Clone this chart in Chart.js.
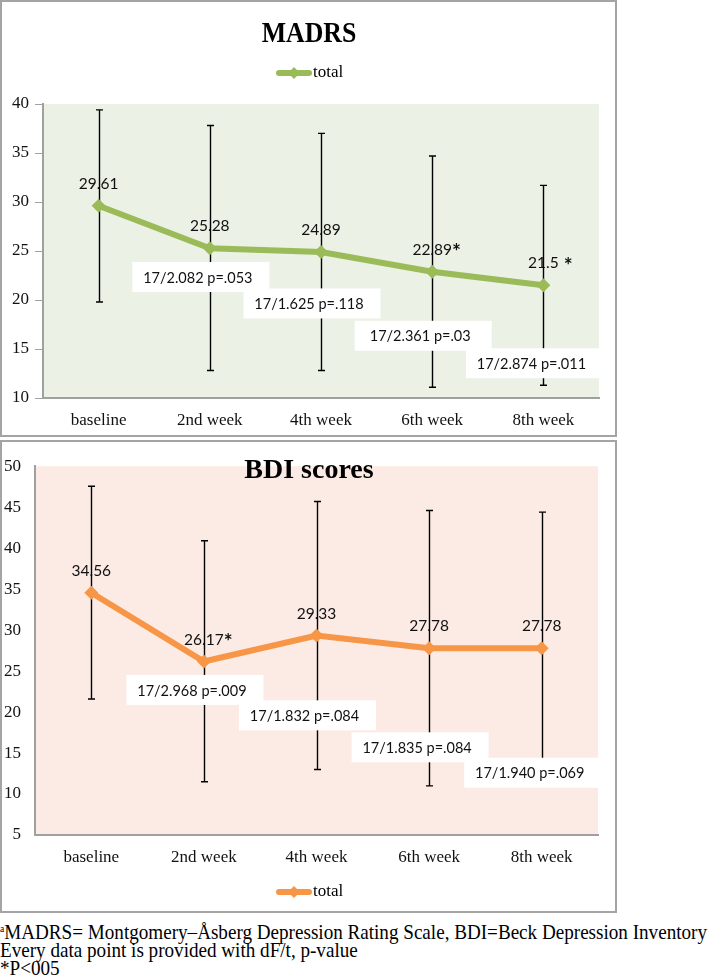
<!DOCTYPE html>
<html><head><meta charset="utf-8">
<script src="https://cdn.jsdelivr.net/npm/chart.js@4/dist/chart.umd.min.js"></script>
<style>
html,body{margin:0;padding:0;background:#fff;}
body{width:709px;height:977px;position:relative;overflow:hidden;}
.panel{position:absolute;left:0;width:617px;box-sizing:border-box;border:2px solid #a4a4a4;background:#fff;}
#p1{top:0;height:437px;}
#p2{top:440px;height:473px;}
.panel canvas{display:block;}
#notes{position:absolute;left:0;top:923px;font-family:"Liberation Serif","Times New Roman",serif;font-size:22px;line-height:18px;color:#000;white-space:nowrap;transform-origin:0 0;}
#notes sup{font-size:11px;vertical-align:top;line-height:10px;}
</style></head>
<body>
<div class="panel" id="p1"><canvas id="c1" width="613" height="433"></canvas></div>
<div class="panel" id="p2"><canvas id="c2" width="613" height="469"></canvas></div>
<div id="notes"><span id="n1"><sup>a</sup>MADRS= Montgomery–Åsberg Depression Rating Scale, BDI=Beck Depression Inventory</span><br>Every data point is provided with dF/t, p-value<br>*P&lt;005</div>
<script>
// ---------- data ----------
const categories = ["baseline", "2nd week", "4th week", "6th week", "8th week"];

const madrsMean  = [29.61, 25.28, 24.89, 22.89, 21.5];
const madrsLow   = [19.8, 12.8, 12.8, 11.1, 11.3];
const madrsHigh  = [39.4, 37.8, 37.0, 34.7, 31.7];
const madrsStars = ["", "", "", "*", " *"];
const madrsTests = [null, "17/2.082 p=.053", "17/1.625 p=.118", "17/2.361 p=.03", "17/2.874 p=.011"];
const madrsTestAt = [null, 22.35, 19.65, 16.35, 13.55];
const madrsTicks = [10, 15, 20, 25, 30, 35, 40];

const bdiMean  = [34.56, 26.17, 29.33, 27.78, 27.78];
const bdiLow   = [21.6, 11.5, 13.0, 11.0, 11.2];
const bdiHigh  = [47.55, 40.9, 45.7, 44.6, 44.4];
const bdiStars = ["", "*", "", "", ""];
const bdiTests = [null, "17/2.968 p=.009", "17/1.832 p=.084", "17/1.835 p=.084", "17/1.940 p=.069"];
const bdiTestAt = [null, 22.7, 19.6, 15.7, 12.6];
const bdiTicks = [5, 10, 15, 20, 25, 30, 35, 40, 45, 50];

// ---------- styling ----------
const SERIF = '"Liberation Serif","Times New Roman",serif';
const SANS = 'Lato,"Liberation Sans",sans-serif';
const AXIS_GRAY = '#a0a0a0';

function makeDecor(cfg) {
  return {
    id: 'decor_' + cfg.key,
    beforeDraw(chart) {
      const {ctx, chartArea: a} = chart;
      ctx.save();
      ctx.fillStyle = cfg.plotBg;
      ctx.fillRect(a.left, a.top, a.right - a.left, a.bottom - a.top);
      ctx.restore();
    },
    beforeDatasetsDraw(chart) {
      const {ctx} = chart;
      const xs = chart.scales.x, ys = chart.scales.y;
      ctx.save();
      // title
      ctx.fillStyle = '#000';
      ctx.textAlign = 'center';
      ctx.textBaseline = 'middle';
      ctx.save();
      ctx.translate(cfg.titleX, cfg.titleY);
      ctx.scale(cfg.titleScale, 1);
      ctx.font = 'bold ' + cfg.titleSize + 'px ' + SERIF;
      ctx.fillText(cfg.title, 0, 0);
      ctx.restore();
      // legend
      const lx = cfg.legendX, ly = cfg.legendY;
      ctx.strokeStyle = cfg.color;
      ctx.lineWidth = 6;
      ctx.lineCap = 'round';
      ctx.beginPath();
      ctx.moveTo(lx - 15, ly);
      ctx.lineTo(lx + 15, ly);
      ctx.stroke();
      ctx.fillStyle = cfg.color;
      ctx.beginPath();
      ctx.moveTo(lx, ly - 6); ctx.lineTo(lx + 6, ly); ctx.lineTo(lx, ly + 6); ctx.lineTo(lx - 6, ly);
      ctx.closePath(); ctx.fill();
      ctx.fillStyle = '#000';
      ctx.textAlign = 'left';
      ctx.font = '17px ' + SERIF;
      ctx.fillText('total', lx + 19, ly);
      // value labels
      ctx.textAlign = 'left';
      ctx.fillStyle = '#111';
      cfg.mean.forEach((v, i) => {
        const px = xs.getPixelForValue(i), py = ys.getPixelForValue(v);
        const num = String(v);
        ctx.font = '15.5px ' + SANS;
        const w = ctx.measureText(num).width;
        ctx.fillText(num, px - w / 2, py - 22);
        const star = cfg.stars[i];
        if (star) {
          const gap = star.startsWith(' ') ? 5 : 0;
          ctx.font = 'bold 21px ' + SANS;
          ctx.fillText('*', px + w / 2 + gap, py - 19);
        }
      });
      // error bars
      ctx.strokeStyle = '#000';
      ctx.lineWidth = 1.4;
      ctx.lineCap = 'butt';
      cfg.low.forEach((lo, i) => {
        const px = Math.round(xs.getPixelForValue(i)) + 0.5;
        const yl = ys.getPixelForValue(lo), yh = ys.getPixelForValue(cfg.high[i]);
        ctx.beginPath();
        ctx.moveTo(px, yh); ctx.lineTo(px, yl);
        ctx.moveTo(px - 3.5, yh); ctx.lineTo(px + 3.5, yh);
        ctx.moveTo(px - 3.5, yl); ctx.lineTo(px + 3.5, yl);
        ctx.stroke();
      });
      ctx.restore();
    },
    afterDatasetsDraw(chart) {
      const {ctx, chartArea: a} = chart;
      const xs = chart.scales.x, ys = chart.scales.y;
      ctx.save();
      ctx.beginPath();
      ctx.rect(a.left, a.top, a.right - a.left, a.bottom - a.top);
      ctx.clip();
      ctx.font = '14.5px ' + SANS;
      ctx.textAlign = 'center';
      ctx.textBaseline = 'middle';
      cfg.tests.forEach((t, i) => {
        if (!t) return;
        const cx = xs.getPixelForValue(i) - 9;
        const cy = ys.getPixelForValue(cfg.testAt[i]);
        ctx.fillStyle = '#fff';
        ctx.fillRect(cx - 68.5, cy - 15, 137, 30);
        ctx.fillStyle = '#111';
        ctx.fillText(t, cx - 3, cy + 1);
      });
      ctx.restore();
    }
  };
}

function makeChart(canvasId, cfg) {
  return new Chart(document.getElementById(canvasId), {
    type: 'line',
    data: {
      labels: categories,
      datasets: [{
        label: 'total',
        data: cfg.mean,
        borderColor: cfg.color,
        backgroundColor: cfg.color,
        borderWidth: 6,
        tension: 0,
        pointStyle: 'rectRot',
        pointRadius: 7,
        pointHoverRadius: 7,
        pointBorderWidth: 0,
        pointBackgroundColor: cfg.color,
        clip: false
      }]
    },
    options: {
      responsive: false,
      devicePixelRatio: 1,
      animation: false,
      events: [],
      layout: {padding: cfg.padding},
      plugins: {legend: {display: false}, title: {display: false}, tooltip: {enabled: false}},
      scales: {
        x: {
          type: 'category',
          offset: true,
          grid: {display: false},
          border: {display: true, color: AXIS_GRAY, width: 2},
          ticks: {font: {family: SERIF, size: 17}, color: '#111', padding: cfg.xPad, maxRotation: 0},
          afterFit: s => { s.height = cfg.xHeight; }
        },
        y: {
          min: cfg.ticks[0],
          max: cfg.ticks[cfg.ticks.length - 1],
          grid: {display: true, drawOnChartArea: false, drawTicks: cfg.drawTicks, tickLength: 8, color: AXIS_GRAY, lineWidth: 1},
          border: {display: true, color: AXIS_GRAY, width: 2},
          ticks: {stepSize: cfg.ticks[1] - cfg.ticks[0], font: {family: SERIF, size: 17}, color: '#111', padding: cfg.yPad},
          afterFit: s => { s.width = cfg.yWidth; }
        }
      }
    },
    plugins: [makeDecor(cfg)]
  });
}

makeChart('c1', {
  key: 'madrs', title: 'MADRS', titleX: 307, titleY: 32, titleSize: 30, titleScale: 0.86,
  legendX: 292, legendY: 71,
  color: '#9bbb59', plotBg: '#ebf1e5',
  mean: madrsMean, low: madrsLow, high: madrsHigh, stars: madrsStars,
  tests: madrsTests, testAt: madrsTestAt, ticks: madrsTicks,
  padding: {top: 102, right: 16, bottom: 0, left: 0},
  xHeight: 37, yWidth: 41, xPad: 4, yPad: 6, drawTicks: true
});

makeChart('c2', {
  key: 'bdi', title: 'BDI scores', titleX: 307, titleY: 29, titleSize: 28, titleScale: 1,
  legendX: 292, legendY: 450,
  color: '#f79646', plotBg: '#fcebe5',
  mean: bdiMean, low: bdiLow, high: bdiHigh, stars: bdiStars,
  tests: bdiTests, testAt: bdiTestAt, ticks: bdiTicks,
  padding: {top: 7, right: 17, bottom: 0, left: 0},
  xHeight: 76, yWidth: 33, xPad: 4, yPad: 14, drawTicks: false
});

// fit footnote width to the page like the original
const notes = document.getElementById('notes');
const w = document.getElementById('n1').getBoundingClientRect().width;
notes.style.transform = 'scaleX(' + (707 / w) + ')';
</script>
</body></html>
